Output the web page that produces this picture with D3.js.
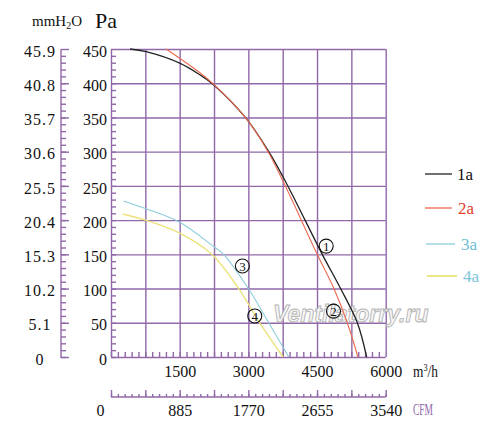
<!DOCTYPE html>
<html>
<head>
<meta charset="utf-8">
<script src="https://cdn.jsdelivr.net/npm/d3@7"></script>
<style>
  body { margin: 0; background: #fff; }
</style>
</head>
<body>
<svg id="chart" width="500" height="428"></svg>
<script>
// fan curves: [flow m3/h, pressure Pa]
const curve1 = [[416,450],[766,446],[1511,429],[1949,412],[2200,400],[2934,350],[3445,300],[3750,264],[4029,228],[4614,150],[5015,100],[5380,50],[5584,0]];
const curve2 = [[1204,450],[1949,415],[2250,398],[2934,350],[3430,300],[3750,258],[3956,229],[4504,150],[4869,100],[5161,50],[5394,0]];
const curve3 = [[270,228],[750,217],[1500,197],[2250,161],[2460,150],[3000,100],[3445,50],[3883,0]];
const curve4 = [[256,209],[750,200],[1500,181],[2200,150],[2788,100],[3248,50],[3759,0]];

const seriesNames = ['1a', '2a', '3a', '4a'];
const lineColors = ['#222222', '#ec6a50', '#8cccdc', '#ece27a'];
const textColors = ['#111111', '#e0402c', '#6cbfd6', '#7cc6da'];

const flowLabels = [1500, 3000, 4500, 6000];
const paLabels = [0, 50, 100, 150, 200, 250, 300, 350, 400, 450];
const mmLabels = [0, 5.1, 10.2, 15.3, 20.4, 25.5, 30.6, 35.7, 40.8, 45.9];
const cfmLabels = [0, 885, 1770, 2655, 3540];

// circled curve numbers: [flow, Pa]
const markers = [['1', 4700, 162], ['2', 4860, 67], ['3', 2870, 133], ['4', 3140, 60]];

const purple = '#9068a8';
const serif = "'Liberation Serif', 'DejaVu Serif', serif";
const svg = d3.select('#chart');
const L = 111, R = 385.7, T = 49, B = 357;

const x = d3.scaleLinear().domain([0, 6000]).range([L, R]);
const y = d3.scaleLinear().domain([0, 450]).range([B, T]);
const mm = d3.scaleLinear().domain([0, 45.9]).range([B, T]);
const cfm = d3.scaleLinear().domain([0, 3540]).range([L, R]);

function paint(g) {
  g.selectAll('.domain').remove();
  g.selectAll('line').attr('stroke', purple).attr('stroke-width', 1.4);
  g.selectAll('text').attr('fill', '#111').attr('font-size', 16).style('font-family', serif);
}

// grid
svg.append('g').attr('transform', `translate(0,${B})`)
  .call(d3.axisBottom(x).tickValues(d3.range(0, 6001, 750)).tickSize(-(B - T)).tickFormat(''))
  .call(paint);
svg.append('g').attr('transform', `translate(${L},0)`)
  .call(d3.axisLeft(y).tickValues(d3.range(0, 451, 50)).tickSize(-(R - L)).tickFormat(''))
  .call(paint);

// minor ticks inside the plot
svg.append('g').attr('transform', `translate(0,${B})`)
  .call(d3.axisBottom(x).tickValues(d3.range(0, 6000, 150)).tickSize(-5).tickFormat(''))
  .call(paint);
svg.append('g').attr('transform', `translate(${L},0)`)
  .call(d3.axisLeft(y).tickValues(d3.range(0, 450, 10)).tickSize(-5).tickFormat(''))
  .call(paint);

// m3/h labels
svg.append('g').attr('transform', `translate(0,${B})`)
  .call(d3.axisBottom(x).tickValues(flowLabels).tickSize(0).tickPadding(9).tickFormat(d3.format('d')))
  .call(paint);
// Pa labels
svg.append('g').attr('transform', `translate(${L},0)`)
  .call(d3.axisLeft(y).tickValues(paLabels).tickSize(0).tickPadding(4).tickFormat(d3.format('d')))
  .call(paint)
  .selectAll('text').attr('dy', '0.45em');

// mmH2O axis
const mmX = 61;
const mmMinor = d3.range(0, 45.9, 1.02);
svg.append('g').attr('transform', `translate(${mmX},0)`)
  .call(d3.axisRight(mm).tickValues(mmMinor).tickSize(5).tickFormat(''))
  .call(paint);
svg.append('g').attr('transform', `translate(${mmX},0)`)
  .call(d3.axisRight(mm).tickValues(mmLabels).tickSize(8).tickFormat(''))
  .call(paint);
svg.append('line').attr('x1', mmX).attr('x2', mmX).attr('y1', mm(0) + 1).attr('y2', mm(45.9))
  .attr('stroke', purple).attr('stroke-width', 1.4);
svg.append('g').attr('transform', `translate(${mmX},0)`)
  .call(d3.axisLeft(mm).tickValues(mmLabels).tickSize(0).tickFormat(d => d === 0 ? '0' : d3.format('.1f')(d)))
  .call(paint)
  .selectAll('text').attr('text-anchor', 'middle').attr('x', -21).attr('dy', '0.45em')
  .attr('letter-spacing', 1);

// CFM axis
const cfmY = 397;
svg.append('g').attr('transform', `translate(0,${cfmY})`)
  .call(d3.axisTop(cfm).tickValues(d3.range(0, 3541, 88.5)).tickSize(3).tickFormat(''))
  .call(paint);
svg.append('g').attr('transform', `translate(0,${cfmY})`)
  .call(d3.axisTop(cfm).tickValues(d3.range(0, 3541, 442.5)).tickSize(7).tickFormat(''))
  .call(paint);
svg.append('line').attr('x1', cfm(0)).attr('x2', cfm(3540)).attr('y1', cfmY).attr('y2', cfmY)
  .attr('stroke', purple).attr('stroke-width', 1.4);
svg.append('g').attr('transform', `translate(0,${cfmY})`)
  .call(d3.axisBottom(cfm).tickValues(cfmLabels).tickSize(0).tickPadding(8).tickFormat(d3.format('d')))
  .call(paint)
  .selectAll('text').filter(d => d === 0).attr('x', -11);

// unit labels
svg.append('text').attr('x', 32).attr('y', 26).attr('font-size', 15).attr('fill', '#111')
  .style('font-family', serif)
  .html('mmH<tspan font-size="10" dy="3">2</tspan><tspan dy="-3">O</tspan>');
svg.append('text').attr('x', 95).attr('y', 28).attr('font-size', 22).attr('fill', '#111')
  .style('font-family', serif).text('Pa');
svg.append('text').attr('x', 413).attr('y', 377).attr('font-size', 16).attr('fill', '#111')
  .style('font-family', serif)
  .attr('textLength', 25).attr('lengthAdjust', 'spacingAndGlyphs')
  .html('m<tspan font-size="10" dy="-6">3</tspan><tspan dy="6">/h</tspan>');
svg.append('text').attr('x', 413).attr('y', 415).attr('font-size', 16).attr('fill', purple)
  .style('font-family', serif)
  .attr('textLength', 20).attr('lengthAdjust', 'spacingAndGlyphs').text('CFM');

// watermark
svg.append('text').attr('x', 273).attr('y', 322)
  .style('font-family', "'Liberation Sans', Arial, sans-serif")
  .attr('font-size', 23).attr('font-weight', 'bold').attr('font-style', 'italic')
  .attr('fill', '#f6f6f6').attr('stroke', '#b4b4b4').attr('stroke-width', 0.9)
  .text('Ventilatorry.ru');

// curves
const line = d3.line().x(d => x(d[0])).y(d => y(d[1])).curve(d3.curveCatmullRom.alpha(0.5));
const curves = [curve1, curve2, curve3, curve4];
const widths = [1.3, 1.1, 1.1, 1.4];
svg.append('g').selectAll('path').data(curves).join('path')
  .attr('d', line).attr('fill', 'none')
  .attr('stroke', (d, i) => lineColors[i]).attr('stroke-width', (d, i) => widths[i]);

// circled numbers
const mk = svg.append('g').selectAll('g').data(markers).join('g')
  .attr('transform', d => `translate(${x(d[1])},${y(d[2])})`);
mk.append('circle').attr('r', 7).attr('fill', 'none').attr('stroke', '#111').attr('stroke-width', 1.1);
mk.append('text').attr('text-anchor', 'middle').attr('dy', '0.36em').attr('font-size', 13)
  .style('font-family', serif).attr('fill', '#111').text(d => d[0]);

// legend
const legY = [174, 208, 244, 276];
const legX = [425, 425, 426, 427];
const lg = svg.append('g').selectAll('g').data(seriesNames).join('g')
  .attr('transform', (d, i) => `translate(${legX[i]},${legY[i]})`);
lg.append('line').attr('x1', 0).attr('x2', (d, i) => [27, 27, 29, 30][i])
  .attr('stroke', (d, i) => lineColors[i]).attr('stroke-width', (d, i) => i === 3 ? 1.8 : 1.3);
lg.append('text').attr('x', (d, i) => [32, 33, 35, 36][i]).attr('dy', '0.35em').attr('font-size', 17)
  .style('font-family', serif)
  .attr('fill', (d, i) => textColors[i]).text(d => d);
</script>
</body>
</html>
